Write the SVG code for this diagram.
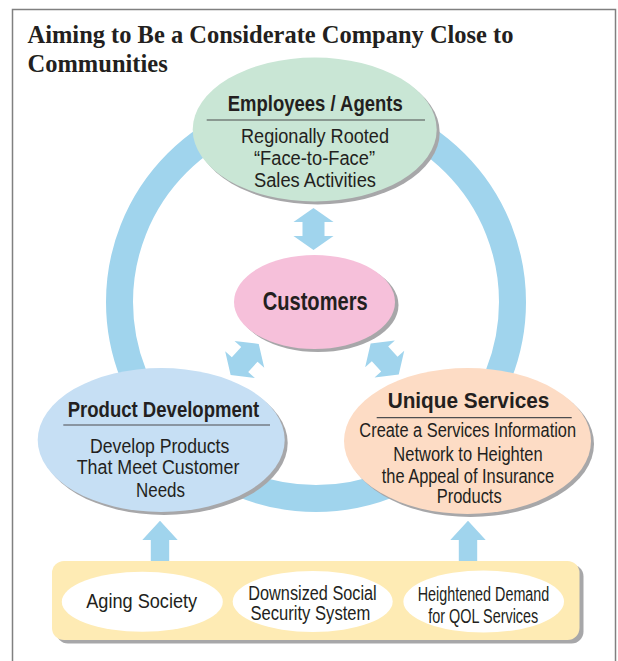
<svg xmlns="http://www.w3.org/2000/svg" width="618" height="661" viewBox="0 0 618 661">
<style>
.title{font-family:"Liberation Serif","Times New Roman",serif;font-weight:bold;font-size:24.5px;fill:#231f20}
.hd{font-family:"Liberation Sans",Arial,sans-serif;font-weight:bold;font-size:22.5px;fill:#231f20;text-anchor:middle}
.bd{font-family:"Liberation Sans",Arial,sans-serif;font-size:20px;fill:#231f20;text-anchor:middle}
.sh{fill:#a7a7a9}
.arrow{fill:#a0d4ed}
.sep{stroke:#4d4d4f;stroke-width:1.2}
</style>
<defs>
<polygon id="dbl" points="0,-21 20,-7 11,-7 11,7 20,7 0,21 -20,7 -11,7 -11,-7 -20,-7"/>
<polygon id="up" points="0,0 17.7,19.3 9.2,19.3 9.2,42 -9.2,42 -9.2,19.3 -17.7,19.3"/>
</defs>
<rect width="618" height="661" fill="#ffffff"/>
<rect x="12.5" y="9.5" width="603" height="670" fill="none" stroke="#808080" stroke-width="1.5"/>
<text class="title" x="27.5" y="42.7" textLength="486" lengthAdjust="spacingAndGlyphs">Aiming to Be a Considerate Company Close to</text>
<text class="title" x="27.5" y="71.7">Communities</text>

<g id="connectors">
<circle cx="316" cy="302" r="196.5" fill="none" stroke="#a0d4ed" stroke-width="27"/>
<use href="#dbl" class="arrow" transform="translate(313.5,229)"/>
<use href="#dbl" class="arrow" transform="translate(244.7,359.5) rotate(42)"/>
<use href="#dbl" class="arrow" transform="translate(384.7,359) rotate(-42)"/>
<use href="#up" class="arrow" transform="translate(160,520.7)"/>
<use href="#up" class="arrow" transform="translate(468,520.7)"/>
</g>

<g id="employees">
<ellipse class="sh" cx="317.7" cy="132.5" rx="122" ry="72"/>
<ellipse cx="314.7" cy="129.5" rx="122" ry="72" fill="#c9e6d5"/>
<text class="hd" x="315.2" y="111" textLength="175" lengthAdjust="spacingAndGlyphs">Employees / Agents</text>
<line class="sep" x1="206.7" y1="120" x2="425" y2="120"/>
<text class="bd" x="315" y="143.3" textLength="148" lengthAdjust="spacingAndGlyphs">Regionally Rooted</text>
<text class="bd" x="314.5" y="165.3" textLength="121" lengthAdjust="spacingAndGlyphs">“Face-to-Face”</text>
<text class="bd" x="315" y="187" textLength="122" lengthAdjust="spacingAndGlyphs">Sales Activities</text>
</g>

<g id="customers">
<ellipse class="sh" cx="318" cy="305" rx="80.5" ry="47"/>
<ellipse cx="314.5" cy="302" rx="80.5" ry="47" fill="#f6c0da"/>
<text class="hd" x="315.2" y="310" style="font-size:25px" textLength="105" lengthAdjust="spacingAndGlyphs">Customers</text>
</g>

<g id="product-development">
<ellipse class="sh" cx="164.2" cy="443" rx="123.5" ry="72"/>
<ellipse cx="161.2" cy="440" rx="123.5" ry="72" fill="#c6dff4"/>
<text class="hd" x="163.5" y="417.3" textLength="191.6" lengthAdjust="spacingAndGlyphs">Product Development</text>
<line class="sep" x1="63.3" y1="425" x2="270" y2="425"/>
<text class="bd" x="159.7" y="452.7" textLength="139.3" lengthAdjust="spacingAndGlyphs">Develop Products</text>
<text class="bd" x="158" y="474" textLength="162.7" lengthAdjust="spacingAndGlyphs">That Meet Customer</text>
<text class="bd" x="160.5" y="496.7" textLength="49" lengthAdjust="spacingAndGlyphs">Needs</text>
</g>

<g id="unique-services">
<ellipse class="sh" cx="470.5" cy="444" rx="123.5" ry="73"/>
<ellipse cx="467.5" cy="441" rx="123.5" ry="73" fill="#fddcc5"/>
<text class="hd" x="468.5" y="408.3" textLength="161.7" lengthAdjust="spacingAndGlyphs">Unique Services</text>
<line class="sep" x1="376.7" y1="417.7" x2="571.7" y2="417.7"/>
<text class="bd" x="467.7" y="436.7" textLength="216.7" lengthAdjust="spacingAndGlyphs">Create a Services Information</text>
<text class="bd" x="468" y="460.7" textLength="149.3" lengthAdjust="spacingAndGlyphs">Network to Heighten</text>
<text class="bd" x="467.9" y="482.7" textLength="172.3" lengthAdjust="spacingAndGlyphs">the Appeal of Insurance</text>
<text class="bd" x="469.2" y="503.3" textLength="65" lengthAdjust="spacingAndGlyphs">Products</text>
</g>

<g id="background-factors">
<rect class="sh" x="56" y="564.5" width="527.5" height="79" rx="12"/>
<rect x="52" y="561" width="527.5" height="79" rx="12" fill="#feebb4"/>
<g id="aging-society">
<ellipse cx="142.3" cy="601.7" rx="80.5" ry="30" fill="#ffffff"/>
<text class="bd" x="141.7" y="608.3" textLength="111" lengthAdjust="spacingAndGlyphs">Aging Society</text>
</g>
<g id="downsized-social-security">
<ellipse cx="312.7" cy="601.5" rx="80" ry="30.5" fill="#ffffff"/>
<text class="bd" x="312.5" y="600" textLength="128.4" lengthAdjust="spacingAndGlyphs">Downsized Social</text>
<text class="bd" x="310.4" y="620" textLength="120" lengthAdjust="spacingAndGlyphs">Security System</text>
</g>
<g id="qol-demand">
<ellipse cx="483.7" cy="601.5" rx="80.3" ry="31" fill="#ffffff"/>
<text class="bd" x="483.5" y="600.7" textLength="131.6" lengthAdjust="spacingAndGlyphs">Heightened Demand</text>
<text class="bd" x="483.3" y="622.7" textLength="110" lengthAdjust="spacingAndGlyphs">for QOL Services</text>
</g>
</g>
</svg>
